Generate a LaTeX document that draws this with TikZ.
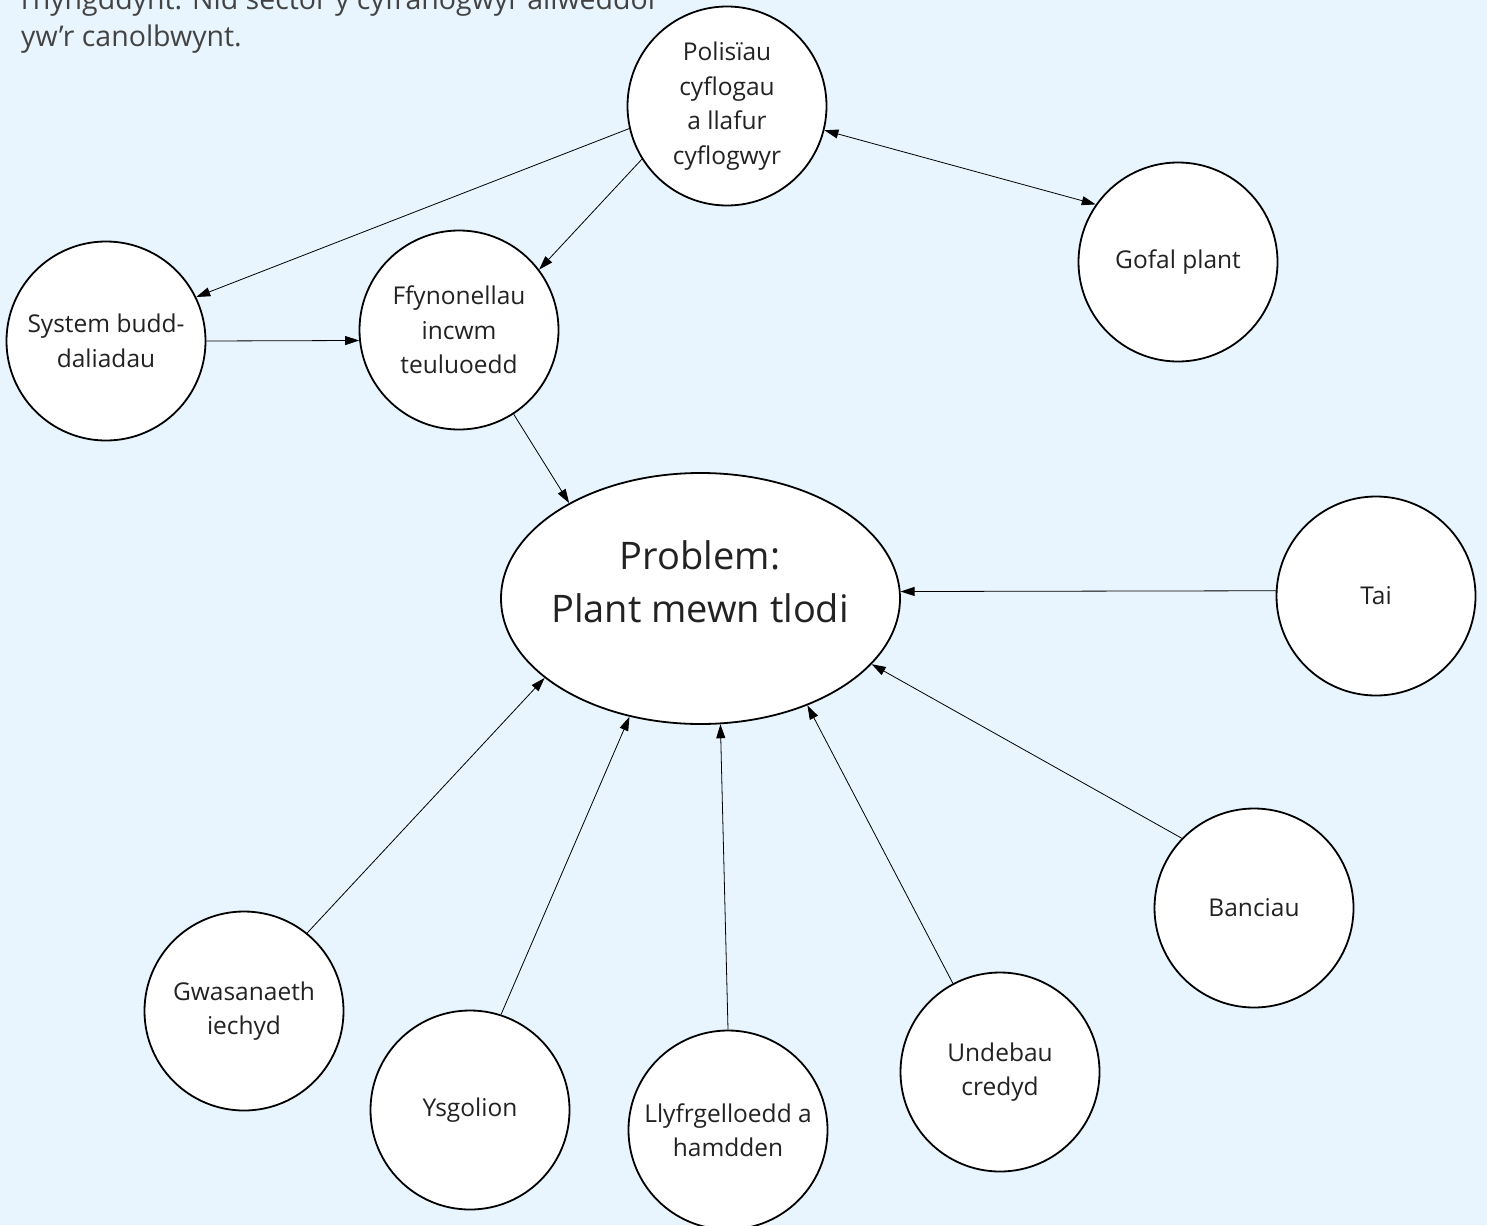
\documentclass[tikz,border=0pt]{standalone}
\usepackage{fontspec}
\setmainfont{Open Sans}
\usetikzlibrary{arrows.meta,shapes.geometric}
\definecolor{bgblue}{HTML}{E8F5FE}
\definecolor{txt}{HTML}{222222}
\tikzset{
  bubble/.style={circle,draw=black,line width=1.8pt,fill=white,minimum size=199pt,inner sep=0pt,align=center,text=txt,font=\fontsize{24.5}{34.5}\selectfont},
  problem/.style={ellipse,draw=black,line width=1.8pt,fill=white,minimum width=399pt,minimum height=251pt,inner sep=0pt},
  probtext/.style={inner sep=0pt,align=center,text=txt,font=\fontsize{38}{53}\selectfont},
  link/.style={line width=0.8pt,-{Triangle[length=14pt,width=9pt]}},
  dlink/.style={line width=0.8pt,{Triangle[length=14pt,width=9pt]}-{Triangle[length=14pt,width=9pt]}},
  intro/.style={anchor=base west,inner sep=0pt,text=txt!85,font=\fontsize{28.5}{37}\selectfont}
}
\begin{document}
\begin{tikzpicture}[x=1pt,y=-1pt]
\fill[bgblue] (0,0) rectangle (1487,1225);
\useasboundingbox (0,0) rectangle (1487,1225);
\clip (0,0) rectangle (1487,1225);
\node[intro] (t1) at (21,10) {rhyngddynt. Nid sector y cyfranogwyr allweddol};
\node[intro] (t2) at (21,47) {yw’r canolbwynt.};

\node[bubble] (pol) at (727,106) {Polisïau\\cyflogau\\a llafur\\cyflogwyr};
\node[bubble] (gof) at (1178,262) {Gofal plant};
\node[bubble] (sys) at (106,341) {System budd-\\daliadau};
\node[bubble] (ffy) at (459,330) {Ffynonellau\\incwm\\teuluoedd};
\node[problem] (prob) at (700.5,598.5) {};
\node[probtext] (probt) at (700,582) {Problem:\\Plant mewn tlodi};
\node[bubble] (tai) at (1376,596) {Tai};
\node[bubble] (ban) at (1254,908) {Banciau};
\node[bubble] (und) at (1000,1072) {Undebau\\credyd};
\node[bubble] (lly) at (728,1130) {Llyfrgelloedd a\\hamdden};
\node[bubble] (ysg) at (470,1110) {Ysgolion};
\node[bubble] (gwa) at (244,1011) {Gwasanaeth\\iechyd};

\draw[link] (pol.193.6) -- (sys.26);
\draw[link] (pol.212.4) -- (ffy.37.1);
\draw[dlink] (pol.-14.8) -- (gof.145.3);
\draw[link] (sys.east) -- (ffy.186);
\draw[link] (ffy.-57.6) -- (prob.144.1);
\draw[link] (tai.177) -- (prob.2.2);
\draw[link] (ban.136.9) -- (prob.-21.9);
\draw[link] (und.118.8) -- (prob.-45.8);
\draw[link] (lly.90.6) -- (prob.-81.7);
\draw[link] (ysg.72.6) -- (prob.-121.8);
\draw[link] (gwa.51.3) -- (prob.-153.9);
\end{tikzpicture}
\end{document}
